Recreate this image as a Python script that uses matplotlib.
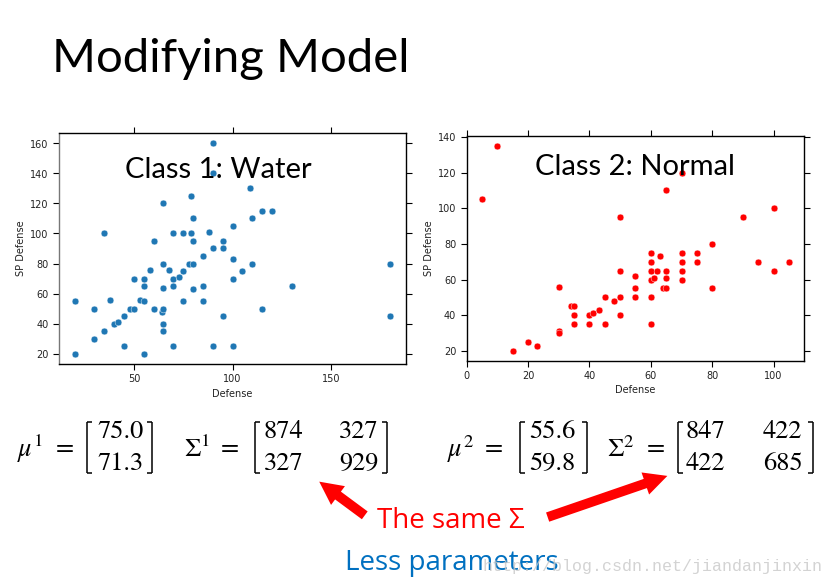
import matplotlib
matplotlib.use('Agg')
import matplotlib.pyplot as plt
from matplotlib.lines import Line2D
from matplotlib.patches import FancyArrowPatch

# ---------------- data ----------------
water_defense = [20, 20, 30, 30, 35, 35, 38, 40, 42, 45, 45, 48, 50, 50, 53, 55, 55, 55, 55,
                 60, 60, 58, 64, 65, 65, 65, 65, 65, 65, 68, 70, 70, 70, 70, 73, 75, 75, 75,
                 78, 79, 79, 80, 80, 80, 80, 85, 85, 85, 88, 90, 90, 90, 90, 95, 95, 95,
                 100, 100, 100, 100, 105, 109, 110, 110, 115, 115, 120, 130, 180, 180]
water_spdef = [55, 20, 50, 30, 100, 35, 56, 40, 41, 45, 25, 50, 50, 70, 56, 65, 70, 55, 20,
               95, 50, 76, 48, 50, 120, 80, 64, 40, 35, 76, 100, 70, 65, 25, 71, 100, 75, 55,
               80, 100, 125, 80, 95, 110, 63, 85, 65, 55, 101, 160, 140, 90, 25, 95, 90, 45,
               105, 83, 70, 25, 75, 130, 110, 80, 115, 50, 115, 65, 80, 45]

normal_defense = [5, 10, 15, 20, 23, 30, 30, 30, 34, 35, 35, 35, 40, 41, 40, 43, 45, 45, 48,
                  50, 50, 50, 50, 55, 55, 55, 60, 60, 60, 60, 60, 60, 61, 62, 63, 64, 65, 65,
                  65, 65, 70, 70, 70, 70, 70, 75, 75, 80, 80, 90, 95, 100, 100, 105]
normal_spdef = [105, 135, 20, 25, 23, 56, 31, 30, 45, 45, 40, 35, 40, 41, 35, 43, 50, 35, 48,
                95, 65, 50, 40, 62, 55, 50, 75, 70, 65, 60, 50, 35, 61, 65, 73, 55, 55, 61,
                65, 110, 120, 75, 70, 65, 60, 75, 70, 80, 55, 95, 70, 100, 65, 70]

mu1 = [75.0, 71.3]
sigma1 = [[874, 327], [327, 929]]
mu2 = [55.6, 59.8]
sigma2 = [[847, 422], [422, 685]]

title = "Modifying Model"
class1_label = "Class 1: Water"
class2_label = "Class 2: Normal"
x_label = "Defense"
y_label = "SP Defense"
note_red = "The same Σ"
note_blue = "Less parameters"
watermark = "http://blog.csdn.net/jiandanjinxin"

# ---------------- figure ----------------
W, H = 834, 586
fig = plt.figure(figsize=(W / 100, H / 100), dpi=100)
plt.rcParams['mathtext.fontset'] = 'stix'


def fx(x):
    return x / W


def fy(y):
    return 1 - y / H


def style_axes(ax, left_spine_color='black'):
    for s in ax.spines.values():
        s.set_linewidth(1.0)
        s.set_color('black')
    ax.spines['left'].set_color(left_spine_color)
    ax.tick_params(direction='out', length=4, width=0.8, labelsize=7,
                   top=True, right=True, labelcolor='#222222')
    ax.set_xlabel(x_label, fontsize=7, labelpad=3, color='#222222')
    ax.set_ylabel(y_label, fontsize=7, labelpad=3, color='#222222')


# left axes
ax1 = fig.add_axes([fx(59), fy(364), fx(406 - 59), (364 - 133) / H])
ax1.scatter(water_defense, water_spdef, s=24, color='#1f77b4', edgecolors='white',
            linewidths=0.3, zorder=3)
ax1.set_xlim(12, 188)
ax1.set_ylim(13, 167)
ax1.set_xticks([50, 100, 150])
ax1.set_yticks([20, 40, 60, 80, 100, 120, 140, 160])
style_axes(ax1, left_spine_color='#777777')
ax1.text(0.458, 0.84, class1_label, transform=ax1.transAxes, ha='center', va='center',
         fontsize=21, family='Lato', color='black', zorder=5)

# right axes
ax2 = fig.add_axes([fx(466.7), fy(360.7), fx(804.3 - 466.7), (360.7 - 136) / H])
ax2.scatter(normal_defense, normal_spdef, s=24, color='red', edgecolors='white',
            linewidths=0.3, zorder=3)
ax2.set_xlim(0, 110)
ax2.set_ylim(14.5, 140.5)
ax2.set_xticks([0, 20, 40, 60, 80, 100])
ax2.set_yticks([20, 40, 60, 80, 100, 120, 140])
style_axes(ax2)
ax2.text(0.4985, 0.86, class2_label, transform=ax2.transAxes, ha='center', va='center',
         fontsize=21, family='Lato', color='black', zorder=5)

# title
fig.text(fx(52), fy(72), title, ha='left', va='baseline', fontsize=34,
         family='Lato', fontweight='normal', color='black')

# ---------------- matrices ----------------
MS = 19  # math font size
row_y = [431.5, 463.5]
br_top, br_bot = 422, 473


def bracket(x, side):
    d = 5 if side == 'left' else -5
    kw = dict(color='black', lw=1.1, transform=fig.transFigure, solid_capstyle='butt')
    fig.add_artist(Line2D([fx(x), fx(x)], [fy(br_top), fy(br_bot)], **kw))
    fig.add_artist(Line2D([fx(x), fx(x + d)], [fy(br_top), fy(br_top)], **kw))
    fig.add_artist(Line2D([fx(x), fx(x + d)], [fy(br_bot), fy(br_bot)], **kw))


def label(x, s):
    fig.text(fx(x), fy(457), s, ha='left', va='baseline', fontsize=MS)


def equals(xc):
    fig.text(fx(xc), fy(449), "=", ha='center', va='center', fontsize=MS,
             family='STIXGeneral')


def vec(vals, xl, xr, xc):
    bracket(xl, 'left')
    bracket(xr, 'right')
    for v, y in zip(vals, row_y):
        fig.text(fx(xc), fy(y), f"{v:.1f}", ha='center', va='center', fontsize=MS,
                 family='STIXGeneral')


def mat(vals, xl, xr, xcs):
    bracket(xl, 'left')
    bracket(xr, 'right')
    for row, y in zip(vals, row_y):
        for v, xc in zip(row, xcs):
            fig.text(fx(xc), fy(y), f"{v}", ha='center', va='center', fontsize=MS,
                     family='STIXGeneral')


label(17, r"$\mu^1$")
equals(64.5)
vec(mu1, 87, 152, 121)
label(184, r"$\Sigma^1$")
equals(230)
mat(sigma1, 255, 387, [283.5, 358.5])

label(447, r"$\mu^2$")
equals(494)
vec(mu2, 520, 587, 552.5)
label(607, r"$\Sigma^2$")
equals(656)
mat(sigma2, 678, 813, [705, 782.5])

# ---------------- arrows ----------------
for (x0, y0), (x1, y1) in [((367, 517), (317, 480)), ((545, 518), (670, 475))]:
    arr = FancyArrowPatch((fx(x0), fy(y0)), (fx(x1), fy(y1)), transform=fig.transFigure,
                          arrowstyle='simple,head_length=1.2,head_width=1.2,tail_width=0.5',
                          mutation_scale=14, color='red', lw=0)
    fig.add_artist(arr)

fig.text(fx(377), fy(528), note_red, ha='left', va='baseline', fontsize=20,
         family='Open Sans', color='red')
fig.text(fx(345), fy(570), note_blue, ha='left', va='baseline', fontsize=20,
         family='Open Sans', color='#0070c0')
fig.text(fx(483), fy(571), watermark, ha='left', va='baseline', fontsize=12,
         family='Liberation Mono', color='#c8c8c8', alpha=0.8)

fig.savefig('out.png', dpi=100)
